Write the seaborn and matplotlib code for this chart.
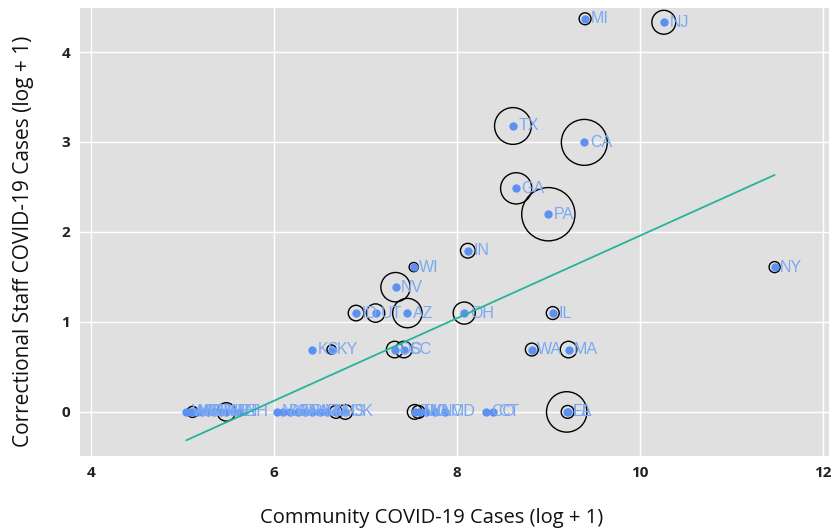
import matplotlib
matplotlib.use("Agg")
import matplotlib.pyplot as plt
import numpy as np
import pandas as pd
import seaborn as sns

# state labels, community cases, correctional staff cases, circle size (read from circle areas)
states = ["MI", "NJ", "TX", "CA", "GA", "PA", "IN", "NY", "WI", "NV",
          "AZ", "UT", "ID", "OH", "IL", "KS", "KY", "DC", "SC", "WA",
          "MA", "FL", "LA",
          "WY", "AK", "ND", "SD", "MT", "WV", "HI", "NE", "ME", "VT", "NH",
          "NM", "DE", "OR", "IA", "RI", "AR", "MN", "AL", "MS", "OK",
          "TN", "MO", "VA", "NC", "MD", "CO", "CT"]
community_cases = [12100, 28600, 5500, 12000, 5700, 8100, 3360, 96000, 1860, 1525,
                   1735, 1225, 990, 3230, 8500, 610, 757, 1510, 1670, 6760,
                   10100, 9900, 10000,
                   154, 160, 165, 173, 184, 195, 210, 225, 239, 259, 278,
                   415, 445, 482, 522, 566, 613, 664, 719, 795, 879,
                   1880, 1960, 2120, 2345, 2615, 4105, 4400]
staff_cases = [78, 75, 23, 19, 11, 8, 5, 4, 4, 3,
               2, 2, 2, 2, 2, 1, 1, 1, 1, 1,
               1, 0, 0,
               0, 0, 0, 0, 0, 0, 0, 0, 0, 0, 0,
               0, 0, 0, 0, 0, 0, 0, 0, 0, 0,
               0, 0, 0, 0, 0, 0, 0]
circle_size = [42, 169, 400, 625, 289, 841, 64, 36, 25, 256,
               256, 100, 72, 144, 49, 0, 25, 81, 81, 49,
               81, 484, 49,
               0, 0, 36, 0, 0, 0, 0, 0, 100, 0, 0,
               0, 0, 0, 0, 0, 0, 0, 0, 49, 64,
               64, 49, 0, 0, 0, 0, 0]

df = pd.DataFrame({
    "state": states,
    "community": np.log1p(community_cases),
    "staff": np.log1p(staff_cases),
    "size": circle_size,
})

sns.set_theme(style="darkgrid")
plt.rcParams["font.family"] = ["Open Sans", "DejaVu Sans"]

fig, ax = plt.subplots(figsize=(8.31, 5.29), dpi=100)
fig.subplots_adjust(left=0.096, right=0.998, top=0.985, bottom=0.138)
ax.set_facecolor("#e0e0e0")
ax.grid(color="white", linewidth=1.0)

# open circles sized by the third variable
circ = df[df["size"] > 0]
sns.scatterplot(data=circ, x="community", y="staff", size="size",
                sizes=(1.75 * circ["size"].min(), 1.75 * circ["size"].max()),
                size_norm=(circ["size"].min(), circ["size"].max()),
                facecolor="none", edgecolor="black", linewidth=1.0,
                legend=False, ax=ax, zorder=3)

# state points
sns.scatterplot(data=df, x="community", y="staff", color="#5b91f0",
                s=36, linewidth=0, legend=False, ax=ax, zorder=4)

for _, r in df.iterrows():
    ax.annotate(r["state"], (r["community"], r["staff"]), xytext=(4, 0),
                textcoords="offset points", va="center", ha="left",
                fontsize=11.5, color="#7ca8f2", family="Liberation Sans", zorder=5)

sns.regplot(data=df, x="community", y="staff", scatter=False, ci=None,
            truncate=True, color="#27b39b", line_kws={"linewidth": 1.3, "zorder": 6}, ax=ax)

ax.set_xlim(3.88, 12.07)
ax.set_ylim(-0.49, 4.49)
ax.set_xticks([4, 6, 8, 10, 12])
ax.set_yticks([0, 1, 2, 3, 4])
ax.tick_params(axis="both", length=4, width=1, color="#8c8c8c", labelsize=11,
               labelcolor="#222222", pad=3)
for lab in ax.get_xticklabels() + ax.get_yticklabels():
    lab.set_fontweight("bold")
ax.set_xlabel("Community COVID-19 Cases (log + 1)", fontsize=14.5, color="#111111")
ax.set_ylabel("Correctional Staff COVID-19 Cases (log + 1)", fontsize=15, color="#111111")
ax.xaxis.set_label_coords(0.469, -0.115)
ax.yaxis.set_label_coords(-0.061, 0.48)
for s in ax.spines.values():
    s.set_visible(False)

fig.savefig("out.png", dpi=100)
